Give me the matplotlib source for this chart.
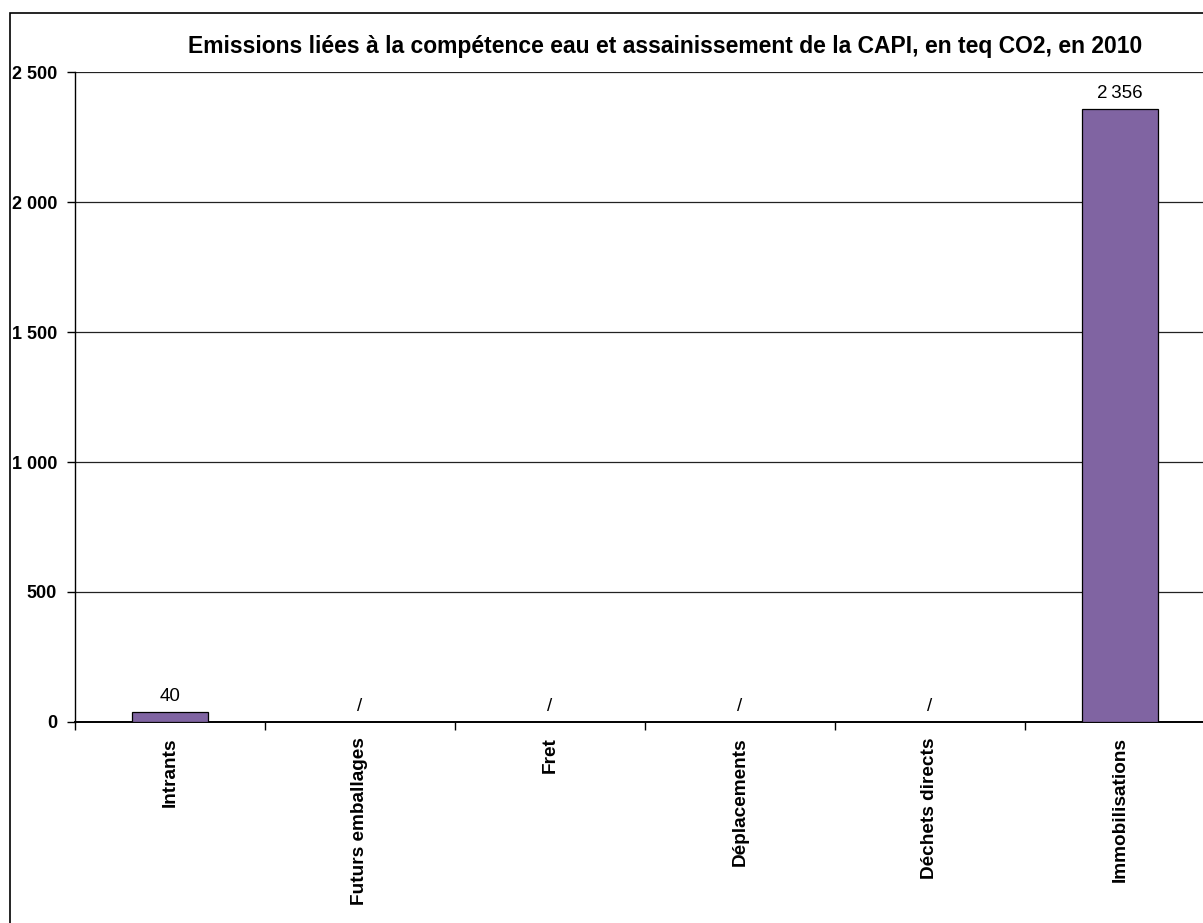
import matplotlib
matplotlib.use('Agg')
import matplotlib.pyplot as plt
from matplotlib.patches import Rectangle
import numpy as np

plt.rcParams['font.family'] = ['Liberation Sans', 'DejaVu Sans']

# Emissions by category, teq CO2 (None = not applicable, shown as "/")
categories = ['Intrants', 'Futurs emballages', 'Fret', 'Déplacements',
              'Déchets directs', 'Immobilisations']
emissions = [40, None, None, None, None, 2356]
yticks = [0, 500, 1000, 1500, 2000, 2500]
ytick_labels = ['0', '500', '1 000', '1 500', '2 000', '2 500']
title = 'Emissions liées à la compétence eau et assainissement de la CAPI, en teq CO2, en 2010'

W, H = 1203, 923
fig = plt.figure(figsize=(W / 100, H / 100), dpi=100)

# outer chart frame (runs off the right and bottom edges)
fig.patches.append(Rectangle((10 / W, -0.1), 1.2, 1 - 13 / H + 0.1,
                             transform=fig.transFigure, fill=False,
                             edgecolor='black', linewidth=1.2))

# plot area extends slightly past the right edge of the image
left, right, top, bottom = 75, 1215, 72, 722
ax = fig.add_axes([left / W, 1 - bottom / H, (right - left) / W, (bottom - top) / H])

x = np.arange(len(categories))
heights = [v if v is not None else 0 for v in emissions]
ax.bar(x, heights, width=0.4, color='#8064A2', edgecolor='black',
       linewidth=0.9, zorder=3)

for xi, v in zip(x, emissions):
    if v is None:
        label, y = '/', 0
    else:
        label, y = f'{v:,}'.replace(',', '\u2009'), v
    ax.annotate(label, (xi, y), xytext=(0, 5), textcoords='offset points',
                ha='center', va='bottom', fontsize=13.5)

ax.set_xlim(-0.5, len(categories) - 0.5)
ax.set_ylim(0, 2500)
ax.set_yticks(yticks)
ax.set_yticklabels(ytick_labels, fontsize=13, fontweight='bold')
ax.yaxis.grid(True, color='#222222', linewidth=0.9, zorder=0)

ax.set_xticks(x)
ax.set_xticklabels(categories, rotation=90, fontsize=13.7, fontweight='bold')
ax.set_xticks(np.arange(len(categories) + 1) - 0.5, minor=True)
ax.tick_params(axis='x', which='major', length=0, pad=11)
ax.tick_params(axis='x', which='minor', length=6, width=1, direction='out')
ax.tick_params(axis='y', length=6, width=1, direction='out', pad=7)

for s in ['top', 'right']:
    ax.spines[s].set_visible(False)
ax.spines['left'].set_linewidth(1)
ax.spines['bottom'].set_linewidth(1.4)

fig.text(665 / W, 1 - 47 / H, title, ha='center', va='center',
         fontsize=16.5, fontweight='bold')

fig.savefig('out.png', dpi=100)
